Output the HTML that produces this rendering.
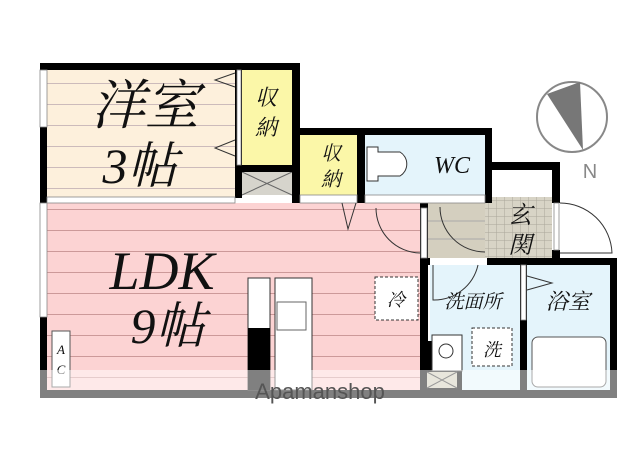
<!DOCTYPE html>
<html><head><meta charset="utf-8"><style>
html,body{margin:0;padding:0;background:#fff;width:640px;height:455px;overflow:hidden}
svg{display:block}
.j{font-family:"Liberation Serif","Noto Serif CJK SC",serif;font-style:italic;fill:#111}
</style></head><body>
<svg width="640" height="455" viewBox="0 0 640 455">
<defs>
<pattern id="stripe" width="10" height="21" patternUnits="userSpaceOnUse"><line x1="0" y1="20.5" x2="10" y2="20.5" stroke="#c99" stroke-width="1"/></pattern>
<pattern id="stripe2" width="10" height="21" patternUnits="userSpaceOnUse"><line x1="0" y1="20.5" x2="10" y2="20.5" stroke="#cbb" stroke-width="1"/></pattern>
<pattern id="tile" width="8" height="8" patternUnits="userSpaceOnUse"><rect width="8" height="8" fill="#d8d4c6"/><path d="M0 0H8M0 0V8" stroke="#aaa69a" stroke-width="1"/></pattern>
</defs>
<rect x="47" y="70" width="190" height="128" fill="#fdf0dc"/>
<rect x="47" y="70" width="190" height="128" fill="url(#stripe2)"/>
<rect x="47" y="203" width="375" height="190" fill="#fcd3d3"/>
<rect x="47" y="203" width="375" height="190" fill="url(#stripe)"/>
<rect x="242" y="70" width="50" height="95" fill="#fbf7a8"/>
<rect x="242" y="172" width="50" height="23" fill="#d6d4cc"/>
<path d="M242 172L292 195M292 172L242 195" stroke="#666" stroke-width="1"/>
<rect x="300" y="135" width="57" height="60" fill="#fbf7a8"/>
<rect x="365" y="135" width="120" height="60" fill="#e4f4fb"/>
<rect x="428" y="203" width="57" height="55" fill="#d4cfbf"/>
<path d="M428 221H485M428 239H485" stroke="#aaa" stroke-width="1"/>
<rect x="485" y="197" width="67" height="61" fill="url(#tile)"/>
<rect x="430" y="265" width="90" height="125" fill="#e4f4fb"/>
<rect x="527" y="265" width="83" height="125" fill="#e4f4fb"/>
<g fill="#000">
<rect x="40" y="63" width="260" height="7"/>
<rect x="40" y="63" width="7" height="335"/>
<rect x="235" y="63" width="7" height="135"/>
<rect x="292" y="63" width="8" height="140"/>
<rect x="242" y="165" width="50" height="7"/>
<rect x="295" y="128" width="197" height="7"/>
<rect x="357" y="128" width="8" height="75"/>
<rect x="485" y="128" width="7" height="75"/>
<rect x="485" y="162" width="75" height="8"/>
<rect x="552" y="162" width="8" height="41"/>
<rect x="552" y="250" width="8" height="12"/>
<rect x="420" y="200" width="8" height="198"/>
<rect x="420" y="258" width="197" height="7"/>
<rect x="520" y="258" width="7" height="140"/>
<rect x="610" y="258" width="7" height="140"/>
<rect x="40" y="390" width="577" height="8"/>
<rect x="426" y="341" width="36" height="49"/>
</g>
<g fill="#fff" stroke="#888" stroke-width="0.8">
<rect x="40" y="70" width="7" height="57"/>
<rect x="40" y="203" width="7" height="114"/>
<rect x="47" y="197" width="188" height="6"/>
<rect x="237" y="70" width="4" height="95"/>
<rect x="300" y="195" width="57" height="8"/>
<rect x="365" y="195" width="120" height="8"/>
<rect x="421" y="208" width="6" height="50"/>
<rect x="554" y="203" width="5" height="47"/>
<rect x="430" y="258" width="57" height="7" stroke="none"/>
<rect x="521" y="265" width="5" height="55"/>
</g>
<g fill="none" stroke="#333" stroke-width="1">
<path d="M235 73L215 80L235 87"/>
<path d="M235 140L215 148L235 156"/>
<path d="M342 203L348 229L356 203"/>
<path d="M376 208A45 45 0 0 0 420 253"/>
<path d="M440 207A45 45 0 0 0 485 252"/>
<path d="M560 203A52 52 0 0 1 612 253H560"/>
<path d="M433 265V300A45 45 0 0 0 478 265"/>
<path d="M527 276L552 283L527 290"/>
</g>
<path d="M367 147H378V152H400A14 14 0 0 1 400 176H378V181H367Z" fill="#fff" stroke="#333" stroke-width="1"/>
<rect x="248" y="278" width="22" height="112" fill="#fff" stroke="#333"/>
<rect x="248" y="328" width="22" height="62" fill="#000"/>
<rect x="275" y="278" width="37" height="112" fill="#fff" stroke="#333"/>
<rect x="277" y="302" width="29" height="28" fill="#fff" stroke="#666"/>
<rect x="375" y="277" width="43" height="43" fill="#fff" stroke="#333" stroke-dasharray="3,2"/>
<rect x="472" y="328" width="40" height="38" fill="#fff" stroke="#333" stroke-dasharray="3,2"/>
<rect x="432" y="335" width="30" height="36" fill="#fff" stroke="#333"/>
<circle cx="446" cy="351" r="7" fill="#fff" stroke="#333"/>
<rect x="532" y="337" width="74" height="50" rx="6" fill="#fff" stroke="#555"/>
<rect x="52" y="331" width="18" height="56" fill="#fff" stroke="#555"/>
<text x="61" y="354" class="j" font-size="13" text-anchor="middle">A</text>
<text x="61" y="374" class="j" font-size="13" text-anchor="middle">C</text>
<text x="145" y="124" class="j" font-size="54" text-anchor="middle">洋室</text>
<text x="140" y="183" class="j" font-size="50" text-anchor="middle">3帖</text>
<text x="266" y="105" class="j" font-size="22" text-anchor="middle">収</text>
<text x="266" y="135" class="j" font-size="22" text-anchor="middle">納</text>
<text x="331" y="160" class="j" font-size="20" text-anchor="middle">収</text>
<text x="331" y="186" class="j" font-size="20" text-anchor="middle">納</text>
<text x="452" y="173" class="j" font-size="24" text-anchor="middle">WC</text>
<text x="162" y="289" class="j" font-size="54" text-anchor="middle">LDK</text>
<text x="168" y="343" class="j" font-size="50" text-anchor="middle">9帖</text>
<text x="396" y="306" class="j" font-size="18" text-anchor="middle">冷</text>
<text x="492" y="356" class="j" font-size="18" text-anchor="middle">洗</text>
<text x="473" y="308" class="j" font-size="19" text-anchor="middle">洗面所</text>
<text x="568" y="309" class="j" font-size="22" text-anchor="middle">浴室</text>
<text x="520" y="223" class="j" font-size="24" text-anchor="middle">玄</text>
<text x="520" y="253" class="j" font-size="24" text-anchor="middle">関</text>
<circle cx="572" cy="117" r="35" fill="#fff" stroke="#888" stroke-width="2"/>
<path d="M547 94L580 82L583 150Z" fill="#777"/>
<text x="590" y="178" font-family="Liberation Sans,sans-serif" font-size="20" fill="#888" text-anchor="middle">N</text>
<rect x="40" y="370" width="577" height="28" fill="#fff" opacity="0.5"/>
<rect x="427" y="372" width="30" height="16" fill="#e8e6dc"/>
<path d="M427 372L457 388M457 372L427 388" stroke="#999"/>
<text x="320" y="399" font-family="Liberation Sans,sans-serif" font-size="22" fill="#555" text-anchor="middle">Apamanshop</text>
</svg>
</body></html>
